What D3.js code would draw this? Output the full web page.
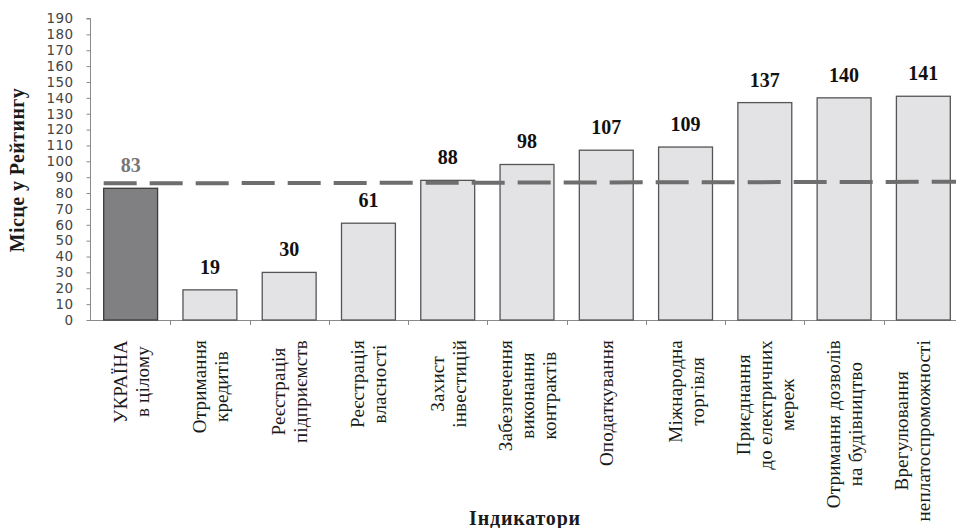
<!DOCTYPE html>
<html>
<head>
<meta charset="utf-8">
<script src="https://cdn.jsdelivr.net/npm/d3@7"></script>
<style>
  html, body { margin: 0; padding: 0; background: #fff; }
  svg { display: block; }
  .serif { font-family: "Liberation Serif", "Times New Roman", "DejaVu Serif", serif; }
  .sans { font-family: "DejaVu Sans", "Liberation Sans", sans-serif; }
</style>
</head>
<body>
<svg id="chart" width="956" height="528"></svg>
<script>
// ---- data ----
const categories = [
  ["УКРАЇНА", "в цілому"],
  ["Отримання", "кредитів"],
  ["Реєстрація", "підприємств"],
  ["Реєстрація", "власності"],
  ["Захист", "інвестицій"],
  ["Забезпечення", "виконання", "контрактів"],
  ["Оподаткування"],
  ["Міжнародна", "торгівля"],
  ["Приєднання", "до електричних", "мереж"],
  ["Отримання дозволів", "на будівництво"],
  ["Врегулювання", "неплатоспроможності"]
];
const values = [83, 19, 30, 61, 88, 98, 107, 109, 137, 140, 141];
const avgLine = [86.1, 87.1];        // dashed reference line (left end, right end)
const yTicks = d3.range(0, 191, 10);
const yTitle = "Місце у Рейтингу";
const xTitle = "Індикатори";

// ---- layout ----
const W = 956;
const svg = d3.select("#chart");
const keys = categories.map(c => c.join(" "));
const x = d3.scaleBand().domain(keys).range([91, 963]).paddingInner(0.32).paddingOuter(0.16);
const y = d3.scaleLinear().domain([0, 190]).range([320, 18.5]);

// y axis
const yAxis = svg.append("g")
  .attr("transform", "translate(90.5,0)")
  .call(d3.axisLeft(y).tickValues(yTicks).tickSize(4).tickPadding(13).tickFormat(d3.format("d")));
yAxis.select(".domain").attr("stroke", "#8a8a8a").attr("d", `M-4,${y(190)}H0V${y(0)}`);
yAxis.selectAll(".tick line").attr("stroke", "#8a8a8a");
yAxis.selectAll(".tick text")
  .attr("class", "sans")
  .attr("font-family", null)
  .attr("font-size", 13.5)
  .attr("letter-spacing", 0.4)
  .attr("fill", "#444");

// x axis line + boundary ticks
const xa = svg.append("g").attr("class", "xaxis");
xa.append("line").attr("x1", 90).attr("x2", W).attr("y1", 320.5).attr("y2", 320.5).attr("stroke", "#8a8a8a");
xa.selectAll("line.tk").data(d3.range(1, keys.length + 1)).join("line")
  .attr("class", "tk")
  .attr("x1", i => Math.round(x.range()[0] + i * x.step()) + 0.5)
  .attr("x2", i => Math.round(x.range()[0] + i * x.step()) + 0.5)
  .attr("y1", 320).attr("y2", 325)
  .attr("stroke", "#8a8a8a");

// bars
svg.append("g").selectAll("rect").data(values).join("rect")
  .attr("x", (d, i) => x(keys[i]))
  .attr("y", d => y(d))
  .attr("width", x.bandwidth())
  .attr("height", d => y(0) - y(d))
  .attr("fill", (d, i) => i === 0 ? "#808083" : "#e3e3e5")
  .attr("stroke", (d, i) => i === 0 ? "#3c3c3c" : "#555")
  .attr("stroke-width", 1.3);

// dashed reference line
const xStart = x(keys[0]);
svg.append("line")
  .attr("x1", xStart).attr("x2", W)
  .attr("y1", y(avgLine[0])).attr("y2", y(avgLine[1]))
  .attr("stroke", "#6e6e6e")
  .attr("stroke-width", 4)
  .attr("stroke-dasharray", "33,13");

// value labels
svg.append("g").selectAll("text").data(values).join("text")
  .attr("class", "serif")
  .attr("x", (d, i) => x(keys[i]) + x.bandwidth() / 2)
  .attr("y", d => y(d) - 16)
  .attr("text-anchor", "middle")
  .attr("font-weight", "bold")
  .attr("font-size", 20)
  .attr("fill", (d, i) => i === 0 ? "#777" : "#111")
  .text(d => d);

// category labels (rotated, multi-line, centred)
const lineGap = 22, topY = 340, maxBaseline = 930;
categories.forEach((lines, i) => {
  const cx = x(keys[i]) + x.bandwidth() / 2;
  const offs = lines.map((d, j) => 7 + (j - (lines.length - 1) / 2) * lineGap);
  const shift = Math.min(0, maxBaseline - (cx + offs[offs.length - 1]));
  const g = svg.append("g").attr("transform", `translate(${cx + shift},0) rotate(-90)`);
  const texts = g.selectAll("text").data(lines).join("text")
    .attr("class", "serif")
    .attr("font-size", 19)
    .attr("letter-spacing", 0.2)
    .attr("fill", "#1a1a1a")
    .attr("text-anchor", "middle")
    .attr("y", (d, j) => offs[j])
    .text(d => d);
  let maxLen = 0;
  texts.each(function () { maxLen = Math.max(maxLen, this.getComputedTextLength()); });
  texts.attr("x", -(topY + maxLen / 2));
});

// axis titles
svg.append("text")
  .attr("class", "serif")
  .attr("transform", "translate(24,170) rotate(-90)")
  .attr("text-anchor", "middle")
  .attr("font-weight", "bold")
  .attr("font-size", 20)
  .attr("letter-spacing", 0.4)
  .attr("fill", "#1a1a1a")
  .text(yTitle);

svg.append("text")
  .attr("class", "serif")
  .attr("x", 525).attr("y", 525)
  .attr("text-anchor", "middle")
  .attr("font-weight", "bold")
  .attr("font-size", 20)
  .attr("letter-spacing", 0.8)
  .attr("fill", "#1a1a1a")
  .text(xTitle);
</script>
</body>
</html>
